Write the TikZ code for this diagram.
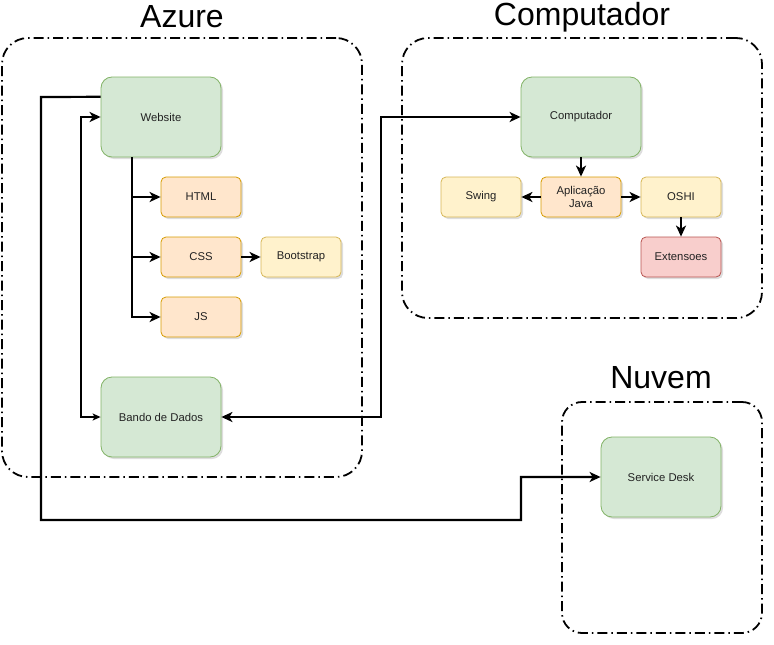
\documentclass[tikz,border=0pt]{standalone}
\usepackage{fontspec}
\setmainfont{Liberation Sans}
\usetikzlibrary{arrows.meta,shadows,calc}
\definecolor{gfill}{HTML}{D5E8D4}\definecolor{gline}{HTML}{82B366}
\definecolor{ofill}{HTML}{FFE6CC}\definecolor{oline}{HTML}{D79B00}
\definecolor{yfill}{HTML}{FFF2CC}\definecolor{yline}{HTML}{D6B656}
\definecolor{rfill}{HTML}{F8CECC}\definecolor{rline}{HTML}{B85450}
\definecolor{txt}{HTML}{222222}
\tikzset{
  shad/.style={drop shadow={shadow xshift=2pt,shadow yshift=-2pt,opacity=0.22,fill=black!60}},
  nodebox/.style={draw,line width=0.8pt,inner sep=0pt,align=center,text=txt,
    font=\fontsize{11.3}{12.5}\selectfont,shad},
  bigbox/.style={nodebox,minimum width=120pt,minimum height=80pt,rounded corners=11pt},
  smallbox/.style={nodebox,minimum width=80pt,minimum height=40pt,rounded corners=5pt},
  green/.style={fill=gfill,draw=gline},
  orange/.style={fill=ofill,draw=oline},
  yellow/.style={fill=yfill,draw=yline},
  red/.style={fill=rfill,draw=rline},
  container/.style={draw=black,line width=1.8pt,dash pattern=on 10pt off 4pt on 1.5pt off 4pt,
    inner sep=0pt},
  title/.style={font=\fontsize{32}{34}\selectfont,text=black},
  conn/.style={draw=black,line width=2.2pt,-{Stealth[length=11pt,width=10pt,inset=3pt]}},
  connb/.style={draw=black,line width=2.2pt,{Stealth[length=8pt,width=7pt,inset=2pt]}-{Stealth[length=11pt,width=10pt,inset=3pt]}},
  conn2/.style={draw=black,line width=2.2pt,{Stealth[length=11pt,width=10pt,inset=3pt]}-{Stealth[length=11pt,width=10pt,inset=3pt]}},
}
\begin{document}
\begin{tikzpicture}[x=1pt,y=-1pt]
\useasboundingbox (0,0) rectangle (774,645);
% containers
\node[container,minimum width=360pt,minimum height=439pt,rounded corners=26pt] (azure) at (182,257.5) {};
\node[container,minimum width=360pt,minimum height=280pt,rounded corners=26pt] (compc) at (582,178) {};
\node[container,minimum width=200pt,minimum height=231pt,rounded corners=20pt] (nuvem) at (662,517.5) {};
\node[title] (azuret) at (182,17) {Azure};
\node[title] (compt) at (582,17) {Computador};
\node[title] (nuvemt) at (661,378) {Nuvem};
% nodes
\node[bigbox,green] (website) at (161,117) {Website};
\node[smallbox,orange] (html) at (201,197) {HTML};
\node[smallbox,orange] (css) at (201,257) {CSS};
\node[smallbox,yellow] (boot) at (301,257) {Bootstrap};
\node[smallbox,orange] (js) at (201,317) {JS};
\node[bigbox,green] (bando) at (161,417) {Bando de Dados};
\node[bigbox,green] (comp) at (581,117) {Computador};
\node[smallbox,orange] (app) at (581,197) {Aplicação\\Java};
\node[smallbox,yellow] (swing) at (481,197) {Swing};
\node[smallbox,yellow] (oshi) at (681,197) {OSHI};
\node[smallbox,red] (ext) at (681,257) {Extensoes};
\node[bigbox,green] (sd) at (661,477) {Service Desk};
% waypoints
\coordinate (wsout) at ($(website.north west)!0.25!(website.south west)$);
\coordinate (trunk) at ($(website.south west)+(31,0)$);
% connectors
\draw[conn] (trunk) |- (html.west);
\draw[conn] (trunk) |- (css.west);
\draw[conn] (trunk) |- (js.west);
\draw[conn] (css) -- (boot);
\draw[connb] (bando.west) -- ++(-20,0) |- (website.west);
\draw[conn] (wsout) -- (41,97) -- (41,520) -- (521,520) -- (521,477) -- (sd.west);
\draw[conn2] (bando.east) -- (381,417) -- (381,117) -- (comp.west);
\draw[conn] (comp) -- (app);
\draw[conn] (app) -- (swing);
\draw[conn] (app) -- (oshi);
\draw[conn] (oshi) -- (ext);
\end{tikzpicture}
\end{document}
